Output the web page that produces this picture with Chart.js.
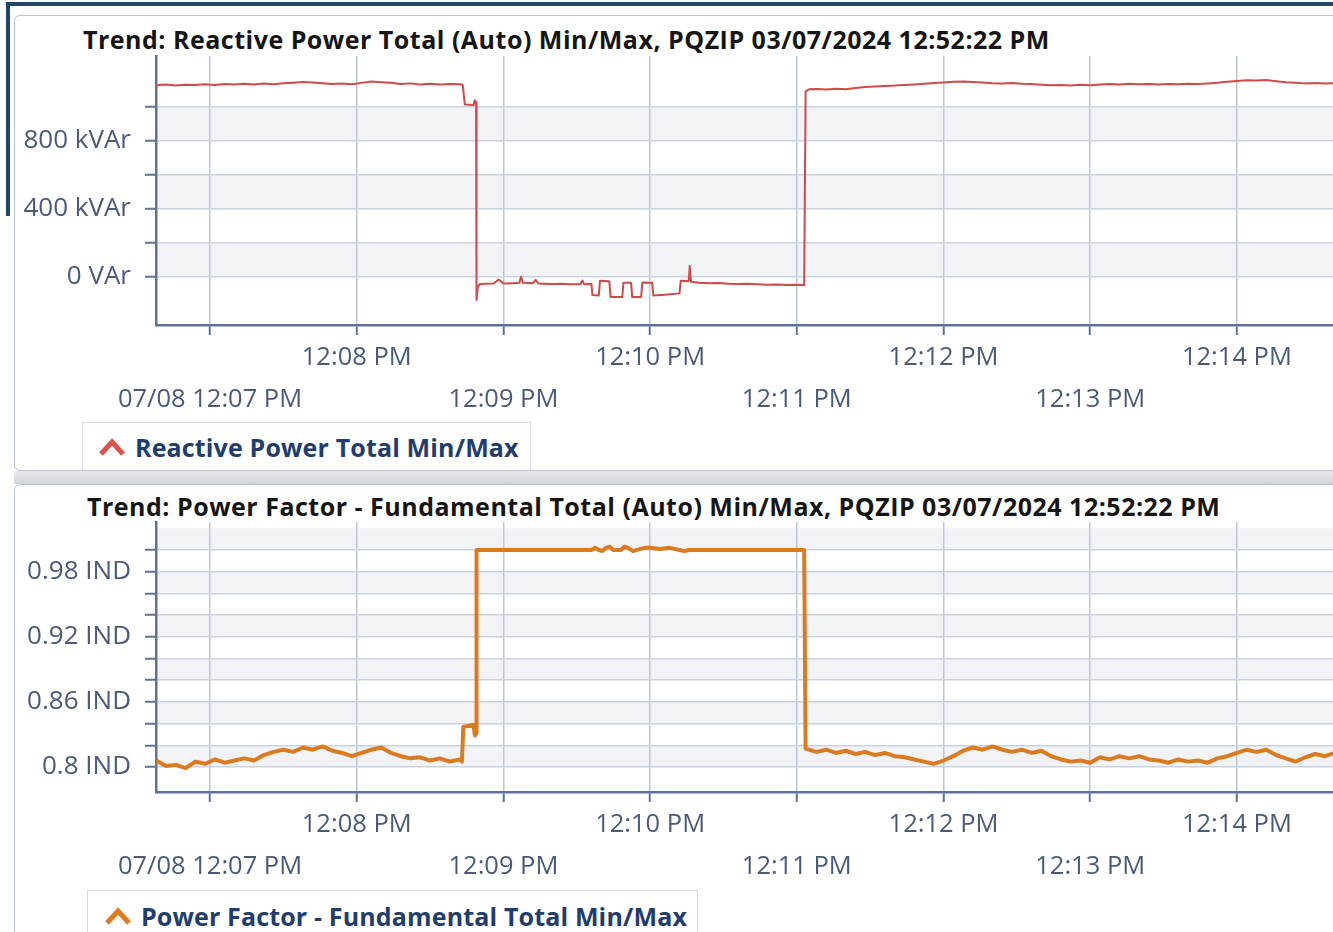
<!DOCTYPE html>
<html lang="en">
<head>
<meta charset="UTF-8">
<title>Trend: Reactive Power / Power Factor</title>
<script src="https://cdn.jsdelivr.net/npm/chart.js@4.4.1/dist/chart.umd.min.js"></script>
<style>
    html, body { margin:0; padding:0; }
    body {
        width:1333px; height:932px; overflow:hidden; position:relative;
        background:#fff; font-family:"Open Sans", sans-serif;
    }
    .frame-top  { position:absolute; left:9px; top:2px; width:1324px; height:4px; background:#1f4868; }
    .frame-left { position:absolute; left:6px; top:2px; width:4px; height:214px; background:#1f4868; }
    .panel {
        position:absolute; left:14px; width:1340px; box-sizing:border-box;
        border:1.5px solid #b3c3da; border-radius:6px; background:#fff;
    }
    #panel1 { top:15px; height:456px; }
    #panel2 { top:484px; height:470px; }
    .gap { position:absolute; left:14px; top:471px; width:1330px; height:13px;
           background:linear-gradient(#e6e8eb, #d2d5da); }
    .title {
        position:absolute; font-weight:700; font-size:25px; letter-spacing:0.5px; color:#151515;
        white-space:nowrap; line-height:28px;
    }
    .legend {
        position:absolute; box-sizing:border-box; display:flex; align-items:center;
        border:1px solid #d5dbe6; border-bottom:none; background:#fff;
        font-weight:700; font-size:25px; letter-spacing:0.15px; color:#1f3d6d; white-space:nowrap;
    }
    .legend svg { margin-right:9px; }
    canvas { position:absolute; }
</style>
</head>
<body>
    <div class="frame-top"></div>
    <div class="frame-left"></div>
    <div class="panel" id="panel1"></div>
    <div class="gap"></div>
    <div class="panel" id="panel2"></div>

    <div class="title" style="left:83px; top:25px;">Trend: Reactive Power Total (Auto) Min/Max, PQZIP 03/07/2024 12:52:22 PM</div>
    <canvas id="reactive" width="1318" height="368" style="left:15px; top:52px;"></canvas>
    <div class="legend" style="left:82px; top:422px; width:449px; height:48px; padding-left:15px;">
        <svg width="28" height="18" viewBox="0 0 28 18"><polyline points="3,16 14,4 25,16" fill="none" stroke="#d9534f" stroke-width="5"/></svg>
        <span>Reactive Power Total Min/Max</span>
    </div>

    <div class="title" style="left:87px; top:492px;">Trend: Power Factor - Fundamental Total (Auto) Min/Max, PQZIP 03/07/2024 12:52:22 PM</div>
    <canvas id="pf" width="1318" height="370" style="left:15px; top:518px;"></canvas>
    <div class="legend" style="left:87px; top:890px; width:611px; height:50px; padding-left:16px;">
        <svg width="28" height="18" viewBox="0 0 28 18"><polyline points="3,16 14,4 25,16" fill="none" stroke="#e07b20" stroke-width="5"/></svg>
        <span>Power Factor - Fundamental Total Min/Max</span>
    </div>

<script>
// time axis: seconds after 12:00:00 PM, 07/08
const timeTickValues = [420, 480, 540, 600, 660, 720, 780, 840];
const timeTickLabels = ['07/08 12:07 PM', '12:08 PM', '12:09 PM', '12:10 PM',
                        '12:11 PM', '12:12 PM', '12:13 PM', '12:14 PM'];

const reactiveTickValues = [0, 200, 400, 600, 800, 1000];
const reactiveTickLabels = ['0 VAr', '', '400 kVAr', '', '800 kVAr', ''];

const pfTickValues = [0.80, 0.82, 0.84, 0.86, 0.88, 0.90, 0.92, 0.94, 0.96, 0.98, 1.00];
const pfTickLabels = ['0.8 IND', '', '', '0.86 IND', '', '', '0.92 IND', '', '', '0.98 IND', ''];

// [seconds, kVAr]
const reactivePoints = [
    [398,1128],[402,1132],[406,1126],[410,1131],[414,1129],[418,1134],[422,1130],[426,1135],
    [430,1132],[434,1137],[438,1133],[442,1138],[446,1134],[450,1140],[454,1143],[458,1147],
    [462,1144],[466,1140],[470,1135],[474,1138],[478,1134],[482,1142],[486,1150],[490,1146],
    [494,1142],[498,1136],[502,1139],[506,1133],[510,1137],[514,1132],[518,1136],[522,1134],
    [523.0,1133],[523.4,1125],[524.2,1015],[527.8,1012],[528.3,1040],[528.8,1030],
    [529.0,-135],[529.5,-60],[530.2,-42],
    [532,-40],[536,-38],[538,-14],[540,-38],[544,-36],[546.5,-34],[547.2,2],[548,-34],
    [552,-37],[553.2,-16],[554.2,-38],[556,-39],[560,-41],[564,-40],[568,-43],
    [571.5,-42],[572.3,-20],[573,-42],[576,-41],
    [576.4,-106],[579.0,-108],[579.5,-22],[583.3,-24],[583.8,-117],[588.6,-118],
    [589.1,-33],[592.2,-34],[592.7,-118],[596.3,-117],[596.8,-32],[600.8,-33],
    [601.3,-108],[606,-104],[612.0,-96],[612.5,-22],[615.8,-23],[616.2,65],[616.7,-28],
    [620,-34],[624,-37],[628,-35],[632,-39],[636,-41],[640,-40],[644,-43],[648,-45],
    [652,-44],[656,-47],[660,-46],[663.0,-47],[663.6,1092],[665,1104],
    [668,1106],[672,1103],[676,1107],[680,1105],[684,1112],[688,1118],[692,1121],[696,1124],
    [700,1126],[704,1130],[708,1133],[712,1137],[716,1141],[720,1144],[724,1148],[728,1150],
    [732,1147],[736,1144],[740,1140],[744,1138],[748,1141],[752,1137],[756,1135],[760,1131],
    [764,1128],[768,1130],[772,1127],[776,1131],[780,1128],[784,1133],[788,1136],[792,1133],
    [796,1137],[800,1134],[804,1136],[808,1132],[812,1136],[816,1134],[820,1137],[824,1135],
    [828,1138],[832,1142],[836,1148],[840,1153],[844,1158],[848,1156],[852,1159],[856,1152],
    [860,1146],[864,1142],[868,1139],[872,1141],[876,1138],[880,1140]
];

// [seconds, power factor]
const powerFactorPoints = [
    [398,0.806],[402,0.801],[406,0.802],[410,0.799],[414,0.805],[418,0.803],[422,0.807],[426,0.804],
    [430,0.806],[434,0.808],[438,0.806],[442,0.811],[446,0.814],[450,0.816],[454,0.814],[458,0.818],
    [462,0.816],[466,0.819],[470,0.815],[474,0.813],[478,0.810],[482,0.813],[486,0.816],[490,0.818],
    [494,0.813],[498,0.810],[502,0.808],[506,0.809],[510,0.806],[514,0.808],[518,0.805],[522,0.807],
    [523.0,0.805],[523.6,0.837],[527.8,0.839],[528.3,0.829],[528.8,0.831],[529.0,1.000],
    [532,1.000],[540,1.000],[550,1.000],[560,1.000],[570,1.000],[576,1.000],[577.5,1.002],
    [579,1.000],[580.5,0.999],[582,1.002],[583.5,1.003],[585,1.000],[588,1.000],[589.5,1.003],
    [591,1.002],[593,0.999],[596,1.001],[598,1.002],[600,1.002],[604,1.001],[608,1.002],
    [612,1.000],[614,0.999],[616,1.000],[630,1.000],[645,1.000],[663.0,1.000],[663.6,0.817],
    [668,0.814],[672,0.816],[676,0.813],[680,0.815],[684,0.812],[688,0.814],[692,0.811],[696,0.813],
    [700,0.810],[704,0.809],[708,0.807],[712,0.805],[716,0.803],[720,0.806],[724,0.810],[728,0.815],
    [732,0.818],[736,0.816],[740,0.819],[744,0.816],[748,0.814],[752,0.816],[756,0.813],[760,0.815],
    [764,0.810],[768,0.807],[772,0.805],[776,0.806],[780,0.804],[784,0.809],[788,0.807],[792,0.810],
    [796,0.808],[800,0.810],[804,0.807],[808,0.806],[812,0.804],[816,0.807],[820,0.805],[824,0.806],
    [828,0.804],[832,0.808],[836,0.810],[840,0.813],[844,0.816],[848,0.814],[852,0.816],[856,0.811],
    [860,0.808],[864,0.805],[868,0.809],[872,0.812],[876,0.810],[880,0.813]
];

// alternating grey bands between y ticks
const bandPlugin = {
    id: 'bands',
    beforeDraw(chart, args, opts) {
        const y = chart.scales.y, area = chart.chartArea, ctx = chart.ctx;
        ctx.save();
        ctx.fillStyle = opts.color;
        y.ticks.forEach(t => {
            if (Math.round(t.value / opts.step) % 2 !== 0) return;
            const top = Math.max(y.getPixelForValue(t.value + opts.step), area.top);
            const bottom = Math.min(y.getPixelForValue(t.value), area.bottom);
            ctx.fillRect(area.left, top, area.right - area.left, bottom - top);
        });
        ctx.restore();
    }
};

const axisColor = '#5d7299';
const labelColor = '#4a5a7b';

function makeChart(canvas, cfg) {
    return new Chart(canvas, {
        type: 'line',
        data: {
            datasets: [{
                data: cfg.points.map(p => ({ x: p[0], y: p[1] })),
                borderColor: cfg.color,
                borderWidth: cfg.lineWidth,
                pointRadius: 0,
                tension: 0,
                borderJoinStyle: 'round'
            }]
        },
        options: {
            responsive: false,
            animation: false,
            layout: { padding: { top: 4, left: 0, right: 0, bottom: 0 } },
            plugins: {
                legend: { display: false },
                tooltip: { enabled: false },
                bands: { color: '#f1f3f7', step: cfg.bandStep }
            },
            scales: {
                x: {
                    type: 'linear',
                    min: 397.9,
                    max: 879.3,
                    afterBuildTicks: s => { s.ticks = timeTickValues.map(v => ({ value: v })); },
                    afterFit: s => { s.height = cfg.xHeight; },
                    border: { color: axisColor, width: 2.5 },
                    grid: { color: '#bcc7da', lineWidth: 1.5, tickColor: axisColor, tickWidth: 2, tickLength: 10 },
                    ticks: {
                        autoSkip: false, maxRotation: 0, minRotation: 0, padding: 2,
                        color: labelColor,
                        font: { family: 'Open Sans', size: 25.5, lineHeight: '42px' },
                        callback: (v, i) => i % 2 === 0 ? ['', timeTickLabels[i]] : timeTickLabels[i]
                    }
                },
                y: {
                    min: cfg.yMin,
                    max: cfg.yMax,
                    afterBuildTicks: s => { s.ticks = cfg.tickValues.map(v => ({ value: v })); },
                    afterFit: s => { s.width = 141; s.paddingTop = 0; s.paddingBottom = 0; },
                    border: { color: axisColor, width: 2.5 },
                    grid: { color: '#c9d2e0', lineWidth: 1.5, tickColor: axisColor, tickWidth: 2, tickLength: 11 },
                    ticks: {
                        autoSkip: false, padding: 14,
                        color: labelColor,
                        font: { family: 'Open Sans', size: 26 },
                        callback: (v, i) => cfg.tickLabels[i]
                    }
                }
            }
        },
        plugins: [bandPlugin]
    });
}

makeChart(document.getElementById('reactive'), {
    points: reactivePoints, color: '#cd4b4b', lineWidth: 2,
    yMin: -282, yMax: 1300, bandStep: 200, xHeight: 95,
    tickValues: reactiveTickValues, tickLabels: reactiveTickLabels
});

makeChart(document.getElementById('pf'), {
    points: powerFactorPoints, color: '#dc7a1e', lineWidth: 4,
    yMin: 0.777, yMax: 1.0258, bandStep: 0.02, xHeight: 96,
    tickValues: pfTickValues, tickLabels: pfTickLabels
});
</script>
</body>
</html>
